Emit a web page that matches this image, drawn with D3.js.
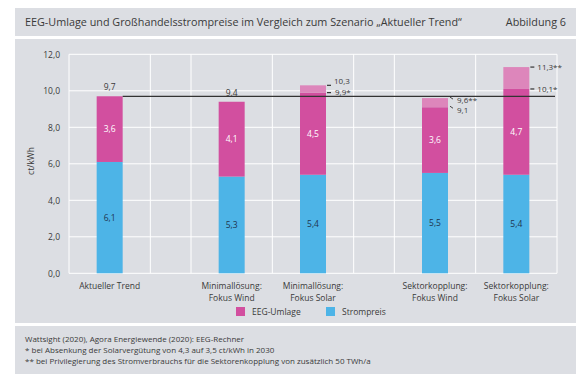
<!DOCTYPE html>
<html><head><meta charset="utf-8">
<script src="https://cdn.jsdelivr.net/npm/d3@7"></script>
<style>
html,body{margin:0;padding:0;background:#fff;}
svg{display:block;font-family:"Open Sans",sans-serif;}
</style></head>
<body>
<script>
// ---- data ----
const categories = [["Aktueller Trend"], ["Minimallösung:", "Fokus Wind"], ["Minimallösung:", "Fokus Solar"], ["Sektorkopplung:", "Fokus Wind"], ["Sektorkopplung:", "Fokus Solar"]];
const slotStart = [0, 1.5, 2.5, 4, 5];            // category slots (gap slots are half width)
const strompreis = [6.1, 5.3, 5.4, 5.5, 5.4];
const eegUmlage = [3.6, 4.1, 4.5, 3.6, 4.7];
const upperTotal = [null, null, 10.3, 9.6, 11.3];   // light pink extension
const totalLabel = ["9,7", "9,4", null, null, null];
const upperLabel = [null, null, "10,3", "9,6**", "11,3**"];
const lowerLabel = [null, null, "9,9*", "9,1", "10,1*"];
const yTicks = [0, 2, 4, 6, 8, 10, 12];
const referenceValue = 9.7;
const legendItems = ["EEG-Umlage", "Strompreis"];
const footnotes = ["Wattsight (2020), Agora Energiewende (2020): EEG-Rechner",
  "* bei Absenkung der Solarvergütung von 4,3 auf 3,5 ct/kWh in 2030",
  "** bei Privilegierung des Stromverbrauchs für die Sektorenkopplung von zusätzlich 50 TWh/a"];

const W = 584, H = 378;
const C = {bg:"#dcdee3", pink:"#d24f9f", light:"#dd86bb", blue:"#4db4e7", text:"#3a3a3a", dark:"#1f3550"};
const svg = d3.select("body").append("svg").attr("width", W).attr("height", H);

// panels
svg.append("rect").attr("x",15).attr("y",8).attr("width",561).attr("height",28).attr("fill",C.bg);
svg.append("rect").attr("x",15).attr("y",39).attr("width",561).attr("height",284).attr("fill",C.bg);
svg.append("rect").attr("x",15).attr("y",326).attr("width",561).attr("height",48).attr("fill",C.bg);

svg.append("text").attr("x",25).attr("y",26).attr("font-size",10.8).attr("fill",C.text)
  .text("EEG-Umlage und Großhandelsstrompreise im Vergleich zum Szenario „Aktueller Trend“");
svg.append("text").attr("x",566).attr("y",26).attr("font-size",10.8).attr("fill",C.text).attr("text-anchor","end")
  .text("Abbildung 6");

const x = d3.scaleLinear().domain([0, 6]).range([69, 557]);
const y = d3.scaleLinear().domain([0, 12]).range([273.3, 54.3]);
const barW = 26;
const cx = i => x(slotStart[i] + 0.5);

// grid
const g = svg.append("g");
g.selectAll("line.h").data(yTicks).join("line")
  .attr("x1", x(0)).attr("x2", x(6)).attr("y1", d => y(d)).attr("y2", d => y(d))
  .attr("stroke","#fff").attr("stroke-width",1);
const vgrid = [0, 1, 1.5, 2.5, 3.5, 4, 5, 6];
g.selectAll("line.v").data(vgrid).join("line")
  .attr("x1", d => x(d)).attr("x2", d => x(d)).attr("y1", y(12)).attr("y2", y(0))
  .attr("stroke","#fff").attr("stroke-width",1);

// y axis
const yAxis = d3.axisLeft(y).tickValues(yTicks).tickSize(0).tickPadding(9)
  .tickFormat(d => d3.format(".1f")(d).replace(".", ","));
const ya = svg.append("g").attr("transform", `translate(${x(0)},0)`).call(yAxis);
ya.select(".domain").remove();
ya.selectAll("text").attr("font-size",8.5).attr("fill",C.text).attr("font-family","Open Sans, sans-serif");
svg.append("text").attr("transform","translate(34,161) rotate(-90)").attr("text-anchor","middle")
  .attr("font-size",8.5).attr("fill",C.text).text("ct/kWh");

// bars
const rows = strompreis.map((s,i)=>({i, s, e:eegUmlage[i], u:upperTotal[i]}));
const bars = svg.append("g");
bars.selectAll("rect.b").data(rows).join("rect")
  .attr("x",d=>cx(d.i)-barW/2).attr("width",barW).attr("y",d=>y(d.s)).attr("height",d=>y(0)-y(d.s)).attr("fill",C.blue);
bars.selectAll("rect.p").data(rows).join("rect")
  .attr("x",d=>cx(d.i)-barW/2).attr("width",barW)
  .attr("y",d=>y(d.s+d.e)).attr("height",d=>y(d.s)-y(d.s+d.e)).attr("fill",C.pink);
bars.selectAll("rect.l").data(rows.filter(d=>d.u!==null)).join("rect")
  .attr("x",d=>cx(d.i)-barW/2).attr("width",barW)
  .attr("y",d=>y(d.u)).attr("height",d=>y(d.s+d.e)-y(d.u)).attr("fill",C.light);

const fmt = v => d3.format(".1f")(v).replace(".", ",");
// segment labels
bars.selectAll("text.b").data(rows).join("text")
  .attr("x",d=>cx(d.i)).attr("y",d=>y(d.s/2)+3).attr("text-anchor","middle")
  .attr("font-size",8.5).attr("fill",C.dark).text(d=>fmt(d.s));
bars.selectAll("text.p").data(rows).join("text")
  .attr("x",d=>cx(d.i)).attr("y",d=>y(d.s+d.e/2)+3).attr("text-anchor","middle")
  .attr("font-size",8.5).attr("fill","#fff").text(d=>fmt(d.e));

// reference line
svg.append("line").attr("x1",cx(0)+barW/2).attr("x2",x(6)-2).attr("y1",y(referenceValue)).attr("y2",y(referenceValue))
  .attr("stroke","#333").attr("stroke-width",1.2);

// total labels
totalLabel.forEach((t,i)=>{
  if(!t) return;
  svg.append("text").attr("x",cx(i)).attr("y",y(strompreis[i]+eegUmlage[i])-6).attr("text-anchor","middle")
    .attr("font-size",8.5).attr("fill",C.text).text(t);
});

// annotations right of bars
upperLabel.forEach((t,i)=>{
  if(!t) return;
  const xr = cx(i)+barW/2;
  const yu = y(upperTotal[i]), yl = y(strompreis[i]+eegUmlage[i]);
  if(i===3){
    svg.append("path").attr("d",`M${xr+2},${yu-1}l3,2`).attr("stroke","#444").attr("fill","none");
    svg.append("path").attr("d",`M${xr+2},${yl-1}l3,2`).attr("stroke","#444").attr("fill","none");
    svg.append("text").attr("x",xr+9).attr("y",yu+5).attr("font-size",8).attr("fill",C.text).text(t);
    svg.append("text").attr("x",xr+9).attr("y",yl+6).attr("font-size",8).attr("fill",C.text).text(lowerLabel[i]);
  } else {
    svg.append("line").attr("x1",xr+1).attr("x2",xr+5).attr("y1",yu).attr("y2",yu).attr("stroke","#333").attr("stroke-width",1.2);
    svg.append("line").attr("x1",xr+1).attr("x2",xr+5).attr("y1",yl).attr("y2",yl).attr("stroke","#333").attr("stroke-width",1.2);
    const off = i===2 ? -1 : 3;
    svg.append("text").attr("x",xr+8).attr("y",yu+off).attr("font-size",8).attr("fill",C.text).text(t);
    svg.append("text").attr("x",xr+(i===2?9:8)).attr("y",yl+(i===2?2:3)).attr("font-size",8).attr("fill",C.text).text(lowerLabel[i]);
  }
});

// category labels
categories.forEach((lines,i)=>{
  const t = svg.append("text").attr("x",cx(i)).attr("y",289).attr("text-anchor","middle")
    .attr("font-size",8.5).attr("fill",C.text);
  lines.forEach((l,k)=>t.append("tspan").attr("x",cx(i)).attr("dy",k?11.5:0).text(l));
});

// legend
const legendX = [236, 326];
const legendCol = [C.pink, C.blue];
legendItems.forEach((l,i)=>{
  svg.append("rect").attr("x",legendX[i]).attr("y",307).attr("width",9).attr("height",9).attr("fill",legendCol[i]);
  svg.append("text").attr("x",legendX[i]+16).attr("y",315).attr("font-size",8.5).attr("fill",C.text).text(l);
});

// footnotes
footnotes.forEach((f,i)=>{
  svg.append("text").attr("x",25).attr("y",342+i*11).attr("font-size",8).attr("fill",C.text).text(f);
});
</script>
</body></html>
